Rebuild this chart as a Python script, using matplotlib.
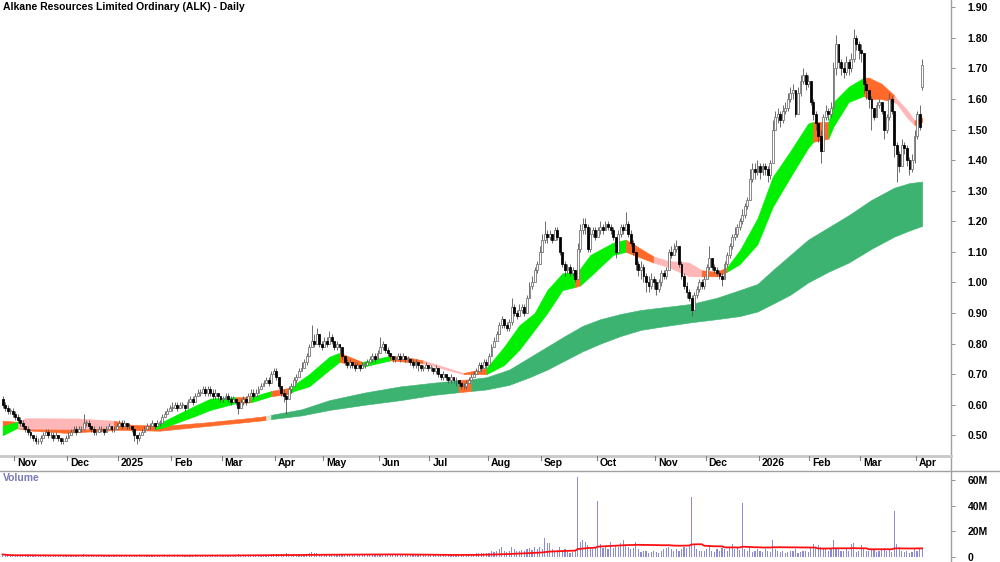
import numpy as np
import pandas as pd
import matplotlib
matplotlib.use("Agg")
import matplotlib.pyplot as plt
from matplotlib.lines import Line2D

# ---------------- DATA ----------------
month_labels = ["", "Nov", "Dec", "2025", "Feb", "Mar", "Apr", "May", "Jun", "Jul",
                "Aug", "Sep", "Oct", "Nov", "Dec", "2026", "Feb", "Mar", "Apr"]
month_days = [5, 21, 20, 21, 20, 21, 19, 22, 20, 23, 21, 22, 23, 20, 21, 20, 20, 22, 3]

first_open = 62
gap_opens = [(363, 164)]

# daily (high, low, close) in cents, one list per month
oct24 = [(63,59,60),(61,58,59),(60,57,58),(59,57,58),(59,56,57)]
nov24 = [(58,55,56),(57,54,55),(56,53,54),(55,52,53),(53,51,52),(53,50,51),(52,49,50),(50,48,49),
         (50,47,48),(49,47,48),(50,47,49),(51,49,50),(52,50,51),(52,49,50),(51,49,50),(51,48,49),
         (51,49,50),(50,48,49),(49,47,48),(49,47,48),(50,48,49)]
dec24 = [(51,49,50),(52,50,51),(53,51,52),(53,50,51),(53,51,52),(53,51,52),(57,52,54),(55,53,54),
         (55,52,53),(53,51,52),(53,50,51),(52,50,51),(53,51,52),(53,51,52),(52,50,51),(53,51,52),
         (54,52,53),(53,51,52),(53,51,52),(54,52,53)]
jan25 = [(55,53,54),(55,52,53),(55,53,54),(54,52,53),(54,52,53),(53,51,52),(52,48,50),(50,47,49),
         (51,48,50),(52,50,51),(53,51,52),(54,52,53),(54,52,53),(55,53,54),(54,52,53),(55,53,54),
         (55,53,54),(57,54,56),(58,56,57),(59,57,58),(60,58,59)]
feb25 = [(61,58,59),(61,59,60),(61,58,59),(61,59,60),(61,59,60),(60,58,59),(62,59,61),(63,61,62),
         (63,60,61),(64,61,63),(65,63,64),(65,63,64),(66,64,65),(66,63,64),(66,63,65),(66,63,64),
         (65,62,63),(65,62,64),(64,62,63),(63,61,62)]
mar25 = [(63,61,62),(64,62,63),(64,61,62),(63,60,61),(63,61,62),(62,60,61),(61,57,59),(62,59,61),
         (63,60,62),(63,60,61),(64,61,63),(65,63,64),(65,62,63),(65,63,64),(66,64,65),(67,65,66),
         (68,66,67),(69,67,68),(69,66,67),(71,67,70),(72,70,71)]
apr25 = [(72,68,69),(69,65,66),(66,63,64),(65,61,63),(64,57,62),(66,62,65),(67,64,66),(69,66,68),
         (70,67,69),(72,69,71),(74,71,72),(75,72,74),(77,73,76),(80,76,79),(86,79,81),(83,79,80),
         (85,80,83),(83,79,80),(81,78,79)]
may25 = [(82,79,81),(82,79,80),(84,80,82),(83,80,81),(81,78,79),(81,78,80),(80,77,79),(79,75,76),
         (76,73,74),(75,72,73),(75,72,74),(74,72,73),(74,71,72),(74,72,73),(73,71,72),(74,72,73),
         (74,72,73),(75,73,74),(76,74,75),(77,74,76),(77,74,75),(78,75,77)]
jun25 = [(82,77,79),(81,78,80),(80,77,78),(79,76,77),(77,75,76),(76,74,75),(76,74,75),(77,75,76),
         (77,74,75),(77,75,76),(76,74,75),(76,74,75),(75,73,74),(75,72,73),(75,72,74),(74,71,73),
         (73,71,72),(73,71,72),(74,72,73),(73,71,72)]
jul25 = [(73,71,72),(72,70,71),(73,70,72),(72,69,70),(70,68,69),(71,68,70),(70,68,69),(69,67,68),
         (70,67,69),(69,67,68),(69,66,68),(68,66,67),(67,65,66),(67,65,66),(68,65,67),(69,67,68),
         (70,68,69),(71,69,70),(72,70,71),(74,71,73),(74,71,72),(75,72,74),(75,72,73)]
aug25 = [(77,73,76),(80,76,79),(82,79,81),(84,81,83),(87,83,86),(89,85,88),(88,85,86),(87,84,85),
         (88,84,87),(95,86,92),(93,89,90),(91,88,89),(93,89,91),(93,90,92),(93,89,90),(96,90,95),
         (100,95,99),(102,98,100),(105,100,104),(107,103,106),(112,106,110)]
sep25 = [(116,110,114),(120,113,116),(117,113,115),(117,114,116),(116,113,114),(118,114,117),
         (118,114,115),(115,109,110),(110,105,106),(107,102,104),(106,103,105),(106,102,103),
         (105,102,104),(104,100,101),(113,101,111),(119,110,117),(121,116,119),(121,116,118),
         (119,110,111),(118,110,116),(118,115,117),(118,114,115)]
oct25 = [(118,115,117),(120,116,118),(119,116,117),(120,117,119),(120,117,118),(119,116,117),
         (118,114,115),(115,108,110),(117,110,116),(119,115,118),(119,116,117),(123,117,119),
         (120,115,116),(117,112,113),(114,109,110),(110,104,106),(107,102,104),(107,101,105),
         (106,100,102),(103,97,100),(102,97,99),(103,98,101),(102,98,100)]
nov25 = [(101,96,98),(101,97,100),(104,99,103),(104,101,102),(105,101,104),(111,104,110),
         (112,108,109),(113,109,111),(114,110,112),(112,105,106),(107,101,102),(103,98,99),
         (100,95,97),(98,94,95),(96,89,91),(97,91,96),(99,95,98),(101,97,100),(101,98,99),(102,98,101)]
dec25 = [(106,101,105),(112,104,108),(108,104,105),(106,103,104),(105,102,103),(104,101,102),
         (103,99,101),(107,101,106),(110,105,109),(113,108,112),(116,111,115),(118,114,116),
         (119,115,118),(121,117,120),(124,119,122),(126,121,125),(128,124,127),(137,127,134),
         (139,133,137),(139,134,136),(140,135,138)]
jan26 = [(139,134,136),(139,135,138),(139,135,137),(138,133,135),(140,134,139),(153,139,150),
         (156,150,154),(157,152,155),(156,151,153),(158,152,156),(159,155,157),(162,156,160),
         (164,159,162),(165,160,163),(163,154,155),(164,155,162),(168,161,166),(170,165,168),
         (169,163,165),(168,164,166)]
feb26 = [(166,158,159),(160,153,155),(156,150,152),(152,146,148),(150,139,143),(155,143,154),
         (158,153,156),(157,153,155),(159,154,157),(172,157,170),(181,168,178),(178,170,172),
         (173,168,170),(172,167,169),(174,168,172),(173,168,170),(175,169,173),(183,172,180),
         (181,176,178),(179,173,176)]
mar26 = [(178,172,175),(168,162,165),(166,160,163),(163,157,160),(161,150,157),(157,153,154),
         (159,154,158),(160,157,159),(159,155,156),(156,147,150),(155,149,154),(162,153,160),
         (161,155,156),(156,141,145),(146,133,142),(143,136,138),(147,138,145),(146,142,144),
         (145,138,140),(141,135,137),(142,136,140),(150,139,148)]
apr26 = [(156,147,155),(158,150,151),(173,163,171)]

# daily volume in millions, one list per month
vol_oct24 = [2.0,1.5,1.2,1.0,1.3]
vol_nov24 = [1.5,1.2,1.0,1.8,1.4,1.1,0.9,1.3,1.6,1.0,0.8,1.2,0.9,1.1,1.0,0.8,1.3,0.9,1.0,1.2,0.8]
vol_dec24 = [1.0,1.4,1.1,0.9,1.2,1.0,2.2,1.3,1.0,0.8,0.9,1.1,0.7,0.9,1.0,0.6,0.8,0.7,0.9,1.0]
vol_jan25 = [1.2,0.9,1.0,0.8,1.1,0.9,1.8,1.5,1.0,0.9,1.1,0.8,1.0,1.2,0.9,1.0,1.1,1.6,1.4,1.5,1.8]
vol_feb25 = [1.5,1.3,1.2,1.4,1.1,1.0,1.6,1.4,1.2,1.5,1.7,1.3,1.4,1.2,1.6,1.3,1.1,1.2,1.0,1.3]
vol_mar25 = [1.1,1.3,1.0,1.2,0.9,1.4,2.0,1.5,1.2,1.0,1.3,1.1,1.0,1.2,1.4,1.6,1.5,1.8,1.3,2.0,2.2]
vol_apr25 = [2.0,2.5,2.2,2.4,3.5,2.0,1.8,1.6,1.5,1.7,1.8,2.0,2.4,3.0,4.0,3.2,3.0,2.5,2.0]
vol_may25 = [2.0,1.8,2.2,1.9,1.7,1.6,1.8,2.5,2.2,1.9,1.6,1.5,1.7,1.4,1.5,1.3,1.4,1.5,1.8,2.0,1.6,2.2]
vol_jun25 = [2.5,2.0,1.8,1.6,1.5,1.4,1.6,1.3,1.5,1.4,1.2,1.3,1.5,1.6,1.3,1.4,1.5,1.2,1.3,1.4]
vol_jul25 = [1.3,1.5,1.2,1.6,1.8,1.4,1.5,1.7,1.3,1.6,1.5,1.8,2.0,1.9,1.7,2.0,2.2,2.5,2.8,3.5,3.0,3.2,2.8]
vol_aug25 = [3.5,4.5,4.0,5.0,6.0,7.5,4.5,4.0,5.0,8.0,6.0,5.0,4.5,5.5,4.8,6.5,7.0,5.5,8.0,6.5,7.5]
vol_sep25 = [6.0,15.0,11.0,11.0,6.0,4.0,5.5,8.0,5.0,6.5,4.0,3.5,4.0,5.0,62.0,12.0,13.0,12.0,9.0,7.0,6.5,7.0]
vol_oct25 = [44.0,10.0,7.0,8.0,6.0,12.0,7.0,9.0,8.0,11.0,13.0,9.0,8.0,6.0,7.0,12.0,6.0,4.0,4.5,5.0,3.5,4.0,5.0]
vol_nov25 = [4.0,3.5,5.0,6.0,7.0,8.0,6.0,5.0,6.5,5.0,6.0,8.0,7.0,9.0,47.0,10.0,6.0,5.0,4.5,5.0]
vol_dec25 = [6.0,9.0,5.0,4.0,6.5,5.0,7.0,6.0,5.0,8.0,10.0,6.0,7.0,5.5,42.0,6.0,5.0,7.0,4.0,5.0,6.0]
vol_jan26 = [5.0,4.0,6.0,4.5,4.0,13.0,6.0,5.0,4.0,5.0,3.5,4.0,4.5,5.0,6.0,3.0,4.0,5.0,4.5,4.0]
vol_feb26 = [8.0,10.0,7.0,9.0,8.0,7.0,6.0,5.0,7.0,13.0,7.0,6.0,5.0,4.5,6.0,5.0,10.0,11.0,4.0,5.0]
vol_mar26 = [9.0,6.0,5.0,4.5,6.0,5.5,4.0,5.0,6.0,7.0,5.0,6.0,4.0,36.0,10.0,8.0,5.0,4.0,4.5,3.5,4.0,6.0]
vol_apr26 = [5.0,6.0,7.0]

# short-term ribbon samples: day index, lower, upper, colour of the segment to the next sample
sb_idx = [0, 6, 9, 30, 44, 52, 60, 64, 75, 82, 92, 98, 106, 113, 115, 121, 129, 133, 142, 153,
          160, 166, 182, 191, 198, 204, 210, 215, 221, 226, 228, 232, 241, 246, 257, 263, 271,
          276, 282, 286, 291, 298, 304, 311, 318, 320, 326, 328, 334, 340, 342, 347, 352, 353,
          357, 360, 363]
sb_lo = [0.500, 0.525, 0.522, 0.520, 0.525, 0.518, 0.520, 0.527, 0.560, 0.583, 0.605, 0.608,
         0.628, 0.635, 0.645, 0.660, 0.714, 0.740, 0.724, 0.745, 0.740, 0.735, 0.700, 0.700,
         0.730, 0.780, 0.845, 0.900, 0.975, 0.985, 0.990, 1.020, 1.090, 1.100, 1.065, 1.050,
         1.020, 1.020, 1.020, 1.035, 1.060, 1.125, 1.247, 1.345, 1.440, 1.460, 1.470, 1.510,
         1.590, 1.610, 1.600, 1.600, 1.590, 1.585, 1.540, 1.515, 1.525]
sb_hi = [0.530, 0.545, 0.556, 0.555, 0.548, 0.532, 0.533, 0.548, 0.593, 0.620, 0.625, 0.625,
         0.645, 0.655, 0.665, 0.700, 0.757, 0.770, 0.740, 0.760, 0.755, 0.745, 0.704, 0.720,
         0.790, 0.860, 0.900, 0.975, 1.030, 1.035, 1.045, 1.090, 1.130, 1.140, 1.085, 1.070,
         1.065, 1.040, 1.035, 1.050, 1.105, 1.210, 1.345, 1.430, 1.520, 1.525, 1.525, 1.590,
         1.640, 1.670, 1.670, 1.650, 1.612, 1.600, 1.565, 1.530, 1.540]
sb_col = ["g", "p", "p", "p", "o", "o", "g", "g", "g", "g", "o", "g", "o", "g", "g", "g", "g",
          "o", "g", "o", "o", "p", "o", "g", "g", "g", "g", "g", "g", "o", "g", "g", "g", "o",
          "p", "p", "p", "o", "o", "g", "g", "g", "g", "g", "g", "o", "g", "g", "g", "o", "o",
          "o", "p", "p", "p", "o", "o"]

# long-term ribbon samples
lb_idx = [0, 12, 25, 46, 62, 80, 98, 104, 106, 118, 129, 143, 157, 170, 180, 185, 191, 200,
          208, 215, 222, 229, 236, 244, 252, 262, 272, 282, 291, 298, 304, 311, 318, 326, 334,
          343, 352, 358, 363]
lb_lo = [0.530, 0.515, 0.508, 0.518, 0.515, 0.530, 0.545, 0.550, 0.553, 0.565, 0.583, 0.600,
         0.615, 0.632, 0.641, 0.645, 0.650, 0.665, 0.690, 0.715, 0.745, 0.775, 0.800, 0.825,
         0.845, 0.858, 0.870, 0.880, 0.890, 0.905, 0.930, 0.960, 1.000, 1.035, 1.065, 1.110,
         1.150, 1.170, 1.185]
lb_hi = [0.548, 0.540, 0.528, 0.536, 0.530, 0.542, 0.557, 0.563, 0.567, 0.585, 0.615, 0.640,
         0.660, 0.672, 0.680, 0.684, 0.690, 0.715, 0.755, 0.790, 0.825, 0.858, 0.880, 0.897,
         0.910, 0.920, 0.930, 0.950, 0.975, 0.995, 1.040, 1.090, 1.140, 1.180, 1.220, 1.270,
         1.310, 1.325, 1.330]
lb_col = ["o", "o", "o", "o", "o", "o", "o", "l", "G", "G", "G", "G", "G", "G", "o", "G", "G",
          "G", "G", "G", "G", "G", "G", "G", "G", "G", "G", "G", "G", "G", "G", "G", "G", "G",
          "G", "G", "G", "G", "G"]

# ---------------- ASSEMBLY ----------------
months = [oct24, nov24, dec24, jan25, feb25, mar25, apr25, may25, jun25, jul25, aug25, sep25,
          oct25, nov25, dec25, jan26, feb26, mar26, apr26]
vols = [vol_oct24, vol_nov24, vol_dec24, vol_jan25, vol_feb25, vol_mar25, vol_apr25, vol_may25,
        vol_jun25, vol_jul25, vol_aug25, vol_sep25, vol_oct25, vol_nov25, vol_dec25, vol_jan26,
        vol_feb26, vol_mar26, vol_apr26]
rows = [r for m in months for r in m]
high = np.array([r[0] for r in rows]) / 100.0
low = np.array([r[1] for r in rows]) / 100.0
close = np.array([r[2] for r in rows]) / 100.0
opn = np.concatenate([[first_open / 100.0], close[:-1]])
for gi, gv in gap_opens:
    opn[gi] = gv / 100.0
volume = np.array([v for m in vols for v in m])
n = len(close)
idx = np.arange(n)

COL = {"g": "#00f000", "o": "#ff6a2a", "p": "#ffb6b6", "G": "#3cb371", "l": "#d6e8cf"}

W, H = 1000, 562
plt.rcParams["font.family"] = ["Liberation Sans", "DejaVu Sans"]
fig = plt.figure(figsize=(10, 5.62), dpi=100)
fig.patch.set_facecolor("white")


def fy(py):
    return 1 - py / H


PANEL_R = 951
ax = fig.add_axes([0, fy(455), PANEL_R / W, 455 / H])
axv = fig.add_axes([0, 0, PANEL_R / W, 91 / H])

for a in (ax, axv):
    for s in a.spines.values():
        s.set_visible(False)
    a.set_xlim(-1.03, 374.4)
    a.set_xticks([])
    a.set_facecolor("white")

ax.set_ylim(0.4356, 1.9239)
axv.set_ylim(-3.9, 67.0)


def draw_ribbon(xs, lo, hi, cols, z):
    k = 0
    nseg = len(xs) - 1
    while k < nseg:
        j = k
        while j + 1 < nseg and cols[j + 1] == cols[k]:
            j += 1
        c = COL[cols[k]]
        ax.fill_between(xs[k:j + 2], lo[k:j + 2], hi[k:j + 2], color=c,
                        lw=0.4, edgecolor=c, zorder=z)
        k = j + 1


draw_ribbon(lb_idx, lb_lo, lb_hi, lb_col, 1)
draw_ribbon(sb_idx, sb_lo, sb_hi, sb_col, 2)

# candles
ax.vlines(idx, low, high, color="#555555", lw=0.6, zorder=3)
up = close >= opn
bw = 0.75
ax.bar(idx[up], np.maximum((close - opn)[up], 0.002), bottom=opn[up], width=bw,
       color="white", edgecolor="#6a6a6a", lw=0.55, zorder=4)
ax.bar(idx[~up], (opn - close)[~up], bottom=close[~up], width=bw, color="black",
       edgecolor="black", lw=0.55, zorder=4)

# volume
axv.bar(idx, volume, width=0.45, color="#8c8cd6", lw=0, zorder=2)
vma = pd.Series(volume).rolling(50, min_periods=1).mean().values
axv.plot(idx, vma, color="#ff1010", lw=1.3, zorder=3)

# right axis ticks/labels
ax.yaxis.tick_right()
ticks = np.round(np.arange(0.5, 1.91, 0.1), 2)
ax.set_yticks(ticks)
ax.set_yticklabels([f"{t:.2f}" for t in ticks], fontsize=7.5, fontweight="bold")
ax.tick_params(axis="y", direction="out", length=3, width=0.6, color="#808080", pad=9)
axv.yaxis.tick_right()
axv.set_yticks([0, 20, 40, 60])
axv.set_yticklabels(["0", "20M", "40M", "60M"], fontsize=7.5, fontweight="bold")
axv.tick_params(axis="y", direction="out", length=3, width=0.6, color="#808080", pad=9)

# frame lines
fig.add_artist(Line2D([PANEL_R / W, PANEL_R / W], [0, 1], color="#a0a0a0", lw=1.0))
fig.add_artist(Line2D([0, PANEL_R / W], [fy(455.5), fy(455.5)], color="#c8c8c8", lw=2.0))
fig.add_artist(Line2D([0, 1], [fy(470.5), fy(470.5)], color="#a0a0a0", lw=1.0))

# month ticks and labels
starts = np.cumsum([0] + month_days[:-1])
frac_per_day = (PANEL_R / W) / (374.4 + 1.03)
for s, lab in zip(starts, month_labels):
    if not lab:
        continue
    xf = (s - 0.5 + 1.03) * frac_per_day
    fig.add_artist(Line2D([xf, xf], [fy(456), fy(460)], color="#808080", lw=0.8))
    fig.text(xf + 3 / W, fy(463), lab, fontsize=7.5, fontweight="bold",
             ha="left", va="center")

fig.text(3 / W, fy(7), "Alkane Resources Limited Ordinary (ALK) - Daily", fontsize=7.5,
         fontweight="bold", ha="left", va="center")
fig.text(3 / W, fy(478), "Volume", fontsize=7.5, fontweight="bold", color="#7a7ab8",
         ha="left", va="center")

fig.savefig("out.png", dpi=100, facecolor="white")
